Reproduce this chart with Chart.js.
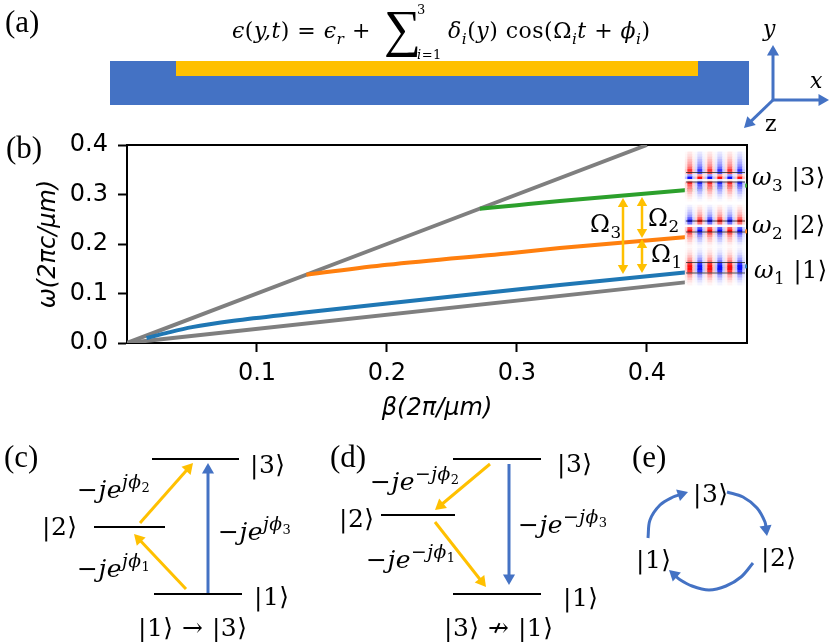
<!DOCTYPE html>
<html>
<head>
<meta charset="utf-8">
<style>
  html, body { margin: 0; background: #fff; }
  canvas { position: absolute; left: 0; top: 0; }
</style>
<script src="https://cdn.jsdelivr.net/npm/chart.js@4"></script>
</head>
<body>
<canvas id="plot" width="830" height="642"></canvas>
<canvas id="schematic" width="830" height="642"></canvas>
<script>
// panel (b): dispersion curves
const xTicks = [0.1, 0.2, 0.3, 0.4]
const yTicks = [0.0, 0.1, 0.2, 0.3, 0.4]

const lightBeta = [0, 0.4]
const lightOmega = [0, 0.4]
const slabBeta = [0, 0.431]
const slabOmega = [0, 0.123]
const mode1Beta = [0.015, 0.03, 0.05, 0.082, 0.133, 0.2, 0.3, 0.333, 0.431, 0.477]
const mode1Omega = [0.01, 0.02, 0.032, 0.045, 0.0605, 0.08, 0.108, 0.117, 0.143, 0.155]
const mode2Beta = [0.138, 0.2, 0.3, 0.333, 0.431, 0.477]
const mode2Omega = [0.138, 0.158, 0.183, 0.192, 0.214, 0.226]
const mode3Beta = [0.2715, 0.3, 0.333, 0.431, 0.477]
const mode3Omega = [0.271, 0.2785, 0.287, 0.309, 0.318]

// field maps beside the curves: strength by row, and across one run of six lobes
const lobeAcross = [
  0.25, 0.95, 0.95, 0.25, -0.25, -0.95, -0.95, -0.25,
  0.25, 0.95, 0.95, 0.25, -0.25, -0.95, -0.95, -0.25,
  0.25, 0.95, 0.95, 0.25, -0.25, -0.95, -0.95, -0.25
]
const field3Rows = [0.10, 0.14, 0.2, 0.28, 0.36, 0.45, 0.6, 0.85, 0.7, -0.4, -1, 0.1, 0.9, 0.65, 0.5, 0.36, 0.25, 0.15, 0.08, 0.03, 0]
const field2Rows = [-0.06, -0.12, -0.2, -0.28, -0.4, -0.65, -1, -0.6, 0.05, 0.7, 1, 0.7, 0.45, 0.3, 0.2, 0.1, 0.04]
const field1Rows = [0.06, 0.1, 0.16, 0.25, 0.38, 0.55, 0.85, 1, 1, 0.85, 0.5, 0.35, 0.22, 0.12, 0.05]

const BLUE = '#4472c4'
const YELLOW = '#ffc000'
const SERIF = '"Liberation Serif", serif'
const MATH = '"DejaVu Serif", serif'

function curve(betas, omegas, color) {
  return {
    data: betas.map((b, i) => ({ x: b, y: omegas[i] })),
    showLine: true, borderColor: color, borderWidth: 4,
    pointRadius: 0, cubicInterpolationMode: 'monotone'
  }
}

// the schematic chart's axes count page pixels
function line(points, color, width, extra) {
  return Object.assign({
    data: points.map(p => ({ x: p[0], y: p[1] })),
    showLine: true, borderColor: color, borderWidth: width, pointRadius: 0
  }, extra)
}

// arrow ends are the tips, the head sits just behind them
function arrow(points, color, width, r, both) {
  const pts = points.map(p => p.slice())
  const n = pts.length
  const angle = (a, b) => Math.atan2(b[0] - a[0], a[1] - b[1])
  const rot = angle(pts[n - 2], pts[n - 1])
  pts[n - 1] = [pts[n - 1][0] - Math.sin(rot) * r, pts[n - 1][1] + Math.cos(rot) * r]
  const radius = pts.map(() => 0)
  const rotation = pts.map(() => 0)
  radius[n - 1] = r
  rotation[n - 1] = rot * 180 / Math.PI
  if (both) {
    const back = angle(pts[1], pts[0])
    pts[0] = [pts[0][0] - Math.sin(back) * r, pts[0][1] + Math.cos(back) * r]
    radius[0] = r
    rotation[0] = back * 180 / Math.PI
  }
  return line(pts, color, width, {
    pointRadius: radius, pointRotation: rotation, pointStyle: 'triangle',
    pointBackgroundColor: color, pointBorderWidth: 0, tension: n > 2 ? 0.35 : 0
  })
}

function fieldMap(rows, top) {
  const cells = [], colors = []
  rows.forEach((row, j) => {
    lobeAcross.forEach((across, i) => {
      const v = Math.max(-1, Math.min(1, row * across))
      const c = Math.round(255 * (1 - Math.abs(v)))
      cells.push({ x: 686.25 + i * 2.5, y: top + j * 2.5 })
      colors.push(v > 0 ? `rgb(255,${c},${c})` : `rgb(${c},${c},255)`)
    })
  })
  return {
    data: cells, showLine: false,
    pointStyle: 'rect', pointRadius: 2, pointBorderWidth: 0, pointBackgroundColor: colors
  }
}

const edgeColor = 'rgba(30,30,30,0.75)'

// first in the list is drawn on top
const schematicSets = [
  line([[686, 172.5], [745, 172.5]], edgeColor, 1),
  line([[686, 182], [745, 182]], edgeColor, 1),
  line([[686, 221], [745, 221]], edgeColor, 1),
  line([[686, 232], [745, 232]], edgeColor, 1),
  line([[686, 262.5], [745, 262.5]], edgeColor, 1),
  line([[686, 273], [745, 273]], edgeColor, 1),
  fieldMap(field3Rows, 153),
  fieldMap(field2Rows, 206),
  fieldMap(field1Rows, 249),

  arrow([[623, 198], [623, 274]], YELLOW, 2.5, 6, true),
  arrow([[642, 197], [642, 238]], YELLOW, 2.5, 6, true),
  arrow([[642, 239], [642, 273]], YELLOW, 2.5, 6, true),

  // (a) waveguide and axes
  line([[176, 68.5], [698, 68.5]], YELLOW, 15),
  line([[110, 83], [749, 83]], BLUE, 44),
  arrow([[773, 100], [773, 45]], BLUE, 3, 7),
  arrow([[773, 100], [829, 100]], BLUE, 3, 7),
  arrow([[773, 100], [744, 128]], BLUE, 3, 7),

  // (c)
  line([[152, 459], [239, 459]], '#000', 2),
  line([[94, 527], [165, 527]], '#000', 2),
  line([[154, 594], [242, 594]], '#000', 2),
  arrow([[208, 594], [208, 463]], BLUE, 3, 7),
  arrow([[140, 523], [193, 463]], YELLOW, 3, 7),
  arrow([[186, 589], [134, 534]], YELLOW, 3, 7),

  // (d)
  line([[453, 459], [541, 459]], '#000', 2),
  line([[381, 515], [455, 515]], '#000', 2),
  line([[453, 594], [541, 594]], '#000', 2),
  arrow([[509, 464], [509, 585]], BLUE, 3, 7),
  arrow([[490, 464], [435, 510]], YELLOW, 3, 7),
  arrow([[435, 522], [486, 587]], YELLOW, 3, 7),

  // (e)
  arrow([[648, 538], [650, 520], [660, 505], [673, 497], [688, 492]], BLUE, 3, 7),
  arrow([[727, 492], [743, 497], [757, 508], [765, 522], [767, 536]], BLUE, 3, 7),
  arrow([[753, 563], [741, 577], [726, 586], [709, 590], [692, 586], [679, 579], [669, 570]], BLUE, 3, 7)
]

// label text, in pieces: r upright, i italic, then sub, sup and smaller forms of those
const STYLES = {
  r: [1, 0, ''], i: [1, 0, 'italic '],
  sub: [0.7, 0.25, ''], isub: [0.7, 0.25, 'italic '],
  sup: [0.75, -0.42, ''], isup: [0.75, -0.42, 'italic '],
  ssub: [0.52, -0.26, '']
}
const je = (sign, n) => [['−', 'r'], ['je', 'i'], [sign + 'j', 'isup'], ['ϕ', 'isup'], [n, 'ssub']]
const ket = n => [['|' + n + '⟩', 'r']]
const mode = n => [['ω', 'i'], [n, 'sub'], [' ', 'r'], ...ket(n)]
const omega = n => [['Ω', 'r'], [n, 'sub']]

const labels = [
  [5, 32, 31, [['(a)', 'r']], SERIF],
  [6, 158, 31, [['(b)', 'r']], SERIF],
  [4, 467, 31, [['(c)', 'r']], SERIF],
  [330, 467, 31, [['(d)', 'r']], SERIF],
  [632, 467, 31, [['(e)', 'r']], SERIF],

  [232, 38, 22, [['ϵ', 'i'], ['(', 'r'], ['y,t', 'i'], [') = ', 'r'], ['ϵ', 'i'], ['r', 'isub'], [' + ', 'r']]],
  [384, 46, 52, [['∑', 'r']], SERIF],
  [417, 14, 13, [['3', 'r']]],
  [417, 59, 13, [['i', 'i'], ['=1', 'r']]],
  [448, 38, 22, [['δ', 'i'], ['i', 'isub'], ['(', 'r'], ['y', 'i'], [') cos(Ω', 'r'], ['i', 'isub'], ['t', 'i'], [' + ', 'r'], ['ϕ', 'i'], ['i', 'isub'], [')', 'r']]],
  [763, 36, 22, [['y', 'i']]],
  [810, 88, 22, [['x', 'i']]],
  [765, 131, 22, [['z', 'r']]],

  [752, 185, 24, mode('3')],
  [752, 233, 24, mode('2')],
  [754, 278, 24, mode('1')],
  [590, 232, 24, omega('3')],
  [648, 226, 24, omega('2')],
  [651, 262, 24, omega('1')],

  [250, 473, 25, ket('3')],
  [42, 535, 25, ket('2')],
  [254, 605, 25, ket('1')],
  [138, 636, 25, [...ket('1'), [' → ', 'r'], ...ket('3')]],
  [77, 498, 25, je('', '2')],
  [77, 577, 25, je('', '1')],
  [218, 540, 25, je('', '3')],

  [557, 472, 25, ket('3')],
  [339, 527, 25, ket('2')],
  [563, 606, 25, ket('1')],
  [444, 636, 25, [...ket('3'), [' ↛ ', 'r'], ...ket('1')]],
  [370, 490, 25, je('−', '2')],
  [366, 568, 25, je('−', '1')],
  [518, 533, 25, je('−', '3')],

  [693, 502, 25, ket('3')],
  [636, 568, 25, ket('1')],
  [761, 566, 25, ket('2')]
]

const labelPlugin = {
  id: 'figureLabels',
  afterDraw(chart) {
    const ctx = chart.ctx
    ctx.save()
    ctx.fillStyle = '#000'
    ctx.textBaseline = 'alphabetic'
    ctx.textAlign = 'left'
    labels.forEach(([x, y, size, parts, family]) => {
      let at = x
      ctx.letterSpacing = family ? '0px' : '0.5px'
      parts.forEach(([text, kind]) => {
        const s = STYLES[kind]
        ctx.font = `${s[2]}${size * s[0]}px ${family || MATH}`
        ctx.fillText(text, at, y + s[1] * size)
        at += ctx.measureText(text).width
      })
    })
    ctx.restore()
  }
}

const spine = { color: '#000', width: 2 }
const tickMarks = { drawOnChartArea: false, tickLength: 9, tickWidth: 2, tickColor: '#000' }
const tickFont = { family: 'DejaVu Sans', size: 24 }
const titleFont = { family: 'DejaVu Sans', size: 24, style: 'oblique' }

new Chart(document.getElementById('plot'), {
  type: 'scatter',
  data: {
    datasets: [
      curve(mode3Beta, mode3Omega, '#2ca02c'),
      curve(mode2Beta, mode2Omega, '#ff7f0e'),
      curve(mode1Beta, mode1Omega, '#1f77b4'),
      curve(lightBeta, lightOmega, '#7f7f7f'),
      curve(slabBeta, slabOmega, '#7f7f7f')
    ]
  },
  options: {
    responsive: false,
    animation: false,
    events: [],
    layout: { autoPadding: false },
    plugins: { legend: { display: false }, tooltip: { enabled: false } },
    scales: {
      x: {
        min: 0, max: 0.477, position: 'bottom',
        afterFit: s => { s.height = 299 },
        afterBuildTicks: s => { s.ticks = xTicks.map(v => ({ value: v })) },
        border: spine,
        grid: tickMarks,
        ticks: { color: '#000', maxRotation: 0, padding: 7, font: tickFont, callback: v => v.toFixed(1) },
        title: { display: true, text: 'β(2π/μm)', color: '#000', padding: { bottom: 219 }, font: titleFont }
      },
      y: {
        min: 0, max: 0.4, position: 'left',
        afterFit: s => { s.width = 127 },
        afterBuildTicks: s => { s.ticks = yTicks.map(v => ({ value: v })) },
        border: spine,
        grid: tickMarks,
        ticks: { color: '#000', padding: 10, font: tickFont, callback: v => v.toFixed(1) },
        title: { display: true, text: 'ω(2πc/μm)', color: '#000', padding: { top: 34 }, font: titleFont }
      },
      xTop: {
        position: 'top',
        afterFit: s => { s.height = 145 },
        border: spine,
        grid: { drawOnChartArea: false, drawTicks: false },
        ticks: { display: false }
      },
      yRight: {
        position: 'right',
        afterFit: s => { s.width = 83 },
        border: spine,
        grid: { drawOnChartArea: false, drawTicks: false },
        ticks: { display: false }
      }
    }
  }
})

new Chart(document.getElementById('schematic'), {
  type: 'scatter',
  data: { datasets: schematicSets },
  plugins: [labelPlugin],
  options: {
    responsive: false,
    animation: false,
    events: [],
    layout: { autoPadding: false },
    plugins: { legend: { display: false }, tooltip: { enabled: false } },
    scales: {
      x: { type: 'linear', display: false, min: 0, max: 830 },
      y: { type: 'linear', display: false, min: 0, max: 642, reverse: true }
    }
  }
})
</script>
</body>
</html>
